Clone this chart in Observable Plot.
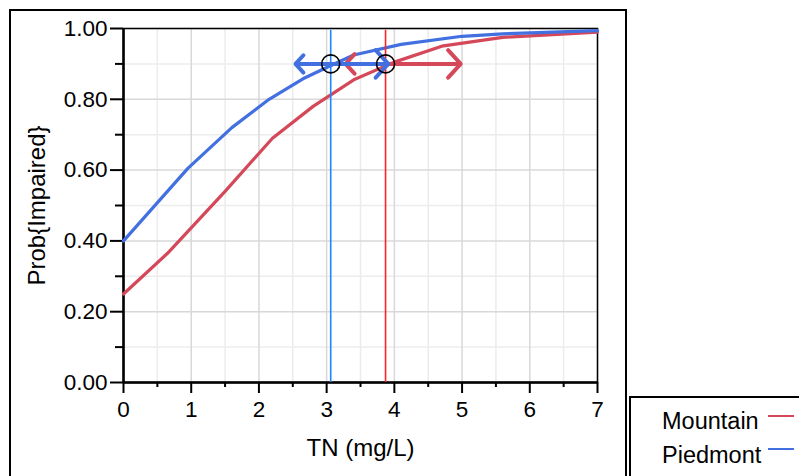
<!DOCTYPE html>
<html>
<head>
<meta charset="utf-8">
<script src="https://cdn.jsdelivr.net/npm/d3@7"></script>
<script src="https://cdn.jsdelivr.net/npm/@observablehq/plot@0.6"></script>
<style>
  html, body { margin: 0; padding: 0; background: #fff; overflow: hidden; }
  #wrap { position: relative; width: 799px; height: 476px; overflow: hidden; font-family: "Liberation Sans", Arial, sans-serif; }
  #outer { position: absolute; left: 9px; top: 9px; width: 618px; height: 500px; border: 2px solid #000; box-sizing: border-box; pointer-events: none; }
  #legend { position: absolute; left: 629px; top: 396px; width: 200px; height: 120px; border-left: 2px solid #000; border-top: 2px solid #000; box-sizing: border-box; background: #fff; }
  .item { position: absolute; left: 31px; font-size: 23.5px; color: #000; line-height: 1; }
  .sw { position: absolute; left: 137px; width: 26px; height: 2px; }
</style>
</head>
<body>
<div id="wrap">
  <div id="chart"></div>
  <div id="outer"></div>
  <div id="legend"></div>
</div>
<script>
// ---- data ----
const groups = ["Mountain", "Piedmont"];
const groupColors = ["#d5485a", "#4270e0"];
const refLineColors = ["#ff2222", "#1a86ff"];

const mountainX = [0, 0.65, 1.5, 2.2, 2.8, 3.4, 4.0, 4.7, 5.6, 7];
const mountainP = [0.25, 0.365, 0.54, 0.69, 0.78, 0.855, 0.905, 0.95, 0.975, 0.99];
const piedmontX = [0, 0.95, 1.6, 2.15, 2.65, 3.0, 3.4, 4.1, 5.0, 5.6, 7];
const piedmontP = [0.40, 0.605, 0.72, 0.80, 0.858, 0.89, 0.925, 0.955, 0.978, 0.985, 0.994];

const targetProb = 0.9;
const estimateTN = [3.87, 3.06];   // Mountain, Piedmont
const lowerTN = [3.28, 2.54];
const upperTN = [4.98, 3.91];

const xTicks = [0, 1, 2, 3, 4, 5, 6, 7];
const xMinor = [0.5, 1.5, 2.5, 3.5, 4.5, 5.5, 6.5];
const yTicks = [0, 0.2, 0.4, 0.6, 0.8, 1.0];
const yMinor = [0.1, 0.3, 0.5, 0.7, 0.9];
const xLabel = "TN (mg/L)";
const yLabel = "Prob{Impaired}";

// ---- build tables ----
const curves = [
  ...mountainX.map((x, i) => ({group: groups[0], x, p: mountainP[i]})),
  ...piedmontX.map((x, i) => ({group: groups[1], x, p: piedmontP[i]}))
];
const est = groups.map((g, i) => ({group: g, x: estimateTN[i], lo: lowerTN[i], hi: upperTN[i], p: targetProb, c: groupColors[i], rc: refLineColors[i]}));
const arrowsFor = d => [
  {x1: d.x, x2: d.lo, p: d.p},
  {x1: d.x, x2: d.hi, p: d.p}
];
const colorOf = Object.fromEntries(groups.map((g, i) => [g, groupColors[i]]));

const chart = Plot.plot({
  width: 799,
  height: 476,
  marginLeft: 123,
  marginRight: 202,
  marginTop: 28,
  marginBottom: 94,
  x: {domain: [0, 7]},
  y: {domain: [0, 1]},
  style: {background: "transparent", color: "#000"},
  marks: [
    Plot.ruleX(xMinor, {stroke: "#ececec", strokeWidth: 1.5}),
    Plot.ruleY(yMinor, {stroke: "#ececec", strokeWidth: 1.5}),
    Plot.ruleX(xTicks, {stroke: "#d8d8d8", strokeWidth: 1.5}),
    Plot.ruleY(yTicks, {stroke: "#d8d8d8", strokeWidth: 1.5}),
    Plot.axisX({ticks: xMinor, tickSize: 5, tickFormat: () => "", strokeWidth: 2, label: null}),
    Plot.axisY({ticks: yMinor, tickSize: 8, tickFormat: () => "", strokeWidth: 2, label: null}),
    Plot.axisX({ticks: xTicks, tickSize: 11, tickPadding: 8, strokeWidth: 2, tickFormat: d3.format("d"), label: null}),
    Plot.axisY({ticks: yTicks, tickSize: 13, tickPadding: 3, strokeWidth: 2, tickFormat: d3.format(".2f"), label: null}),
    Plot.frame({stroke: "#000", strokeWidth: 1.5}),
    Plot.ruleX([0], {stroke: "#000", strokeWidth: 2.5}),
    Plot.ruleY([0], {stroke: "#000", strokeWidth: 2.5}),
    Plot.line(curves, {x: "x", y: "p", z: "group", stroke: d => colorOf[d.group], strokeWidth: 3.2, strokeLinejoin: "round"}),
    Plot.ruleX(est, {x: "x", stroke: "rc", strokeWidth: 1.6, y1: 0, y2: 0.995}),
    Plot.arrow(arrowsFor(est[0]), {x1: "x1", x2: "x2", y1: "p", y2: "p", stroke: groupColors[0], strokeWidth: 4, headLength: 7, headAngle: 95}),
    Plot.arrow(arrowsFor(est[1]), {x1: "x1", x2: "x2", y1: "p", y2: "p", stroke: groupColors[1], strokeWidth: 4, headLength: 7, headAngle: 95}),
    Plot.dot(est, {x: "x", y: "p", r: 9, stroke: "#000", strokeWidth: 1.6, fill: "none"}),
    Plot.text([xLabel], {frameAnchor: "bottom", dy: 66, lineAnchor: "middle", textAnchor: "middle"}),
    Plot.text([yLabel], {frameAnchor: "left", dx: -86, rotate: -90, textAnchor: "middle", lineAnchor: "middle"})
  ]
});
document.getElementById("chart").appendChild(chart);

// force fonts (inline styles win over Plot defaults)
const svg = d3.select(chart);
svg.selectAll("text").style("font-family", "'Liberation Sans', Arial, sans-serif").style("font-size", "22.5px").style("fill", "#000");
svg.selectAll('g[aria-label="text"] text').style("font-size", "24px");

// legend
const leg = document.getElementById("legend");
groups.forEach((g, i) => {
  const t = document.createElement("div");
  t.className = "item";
  t.textContent = g;
  t.style.top = (12 + i * 34) + "px";
  leg.appendChild(t);
  const s = document.createElement("div");
  s.className = "sw";
  s.style.top = (17 + i * 33) + "px";
  s.style.background = groupColors[i];
  leg.appendChild(s);
});
</script>
</body>
</html>
